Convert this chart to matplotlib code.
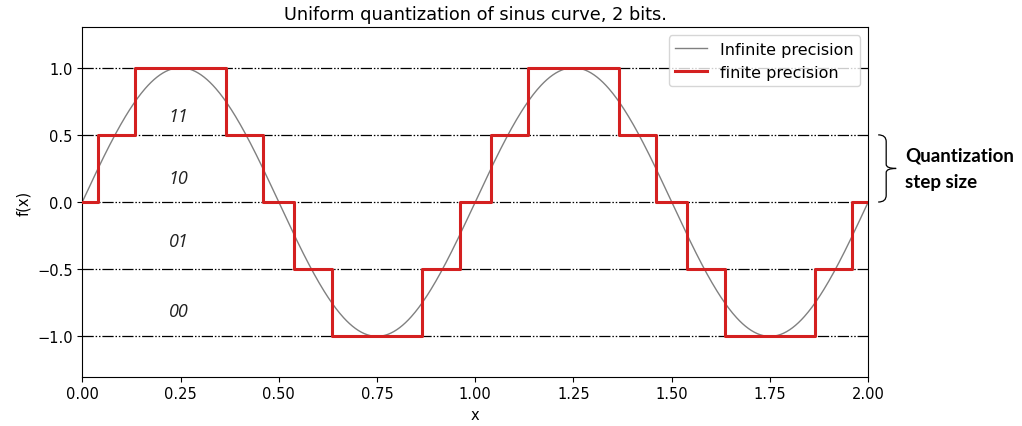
import numpy as np
import matplotlib
matplotlib.use('Agg')
import matplotlib.pyplot as plt
import matplotlib.transforms as mtransforms
from matplotlib.path import Path
from matplotlib.patches import PathPatch

# Quantization levels and the code word written in each band
levels = [-1.0, -0.5, 0.0, 0.5, 1.0]
codes = ['00', '01', '10', '11']
code_y = [-0.81, -0.29, 0.18, 0.64]

# Quantized signal: value held from each edge until the next
step_edges = [0.0, 0.040, 0.135, 0.365, 0.460, 0.540, 0.635, 0.865, 0.960,
              1.040, 1.135, 1.365, 1.460, 1.540, 1.635, 1.865, 1.960, 2.0]
step_values = [0.0, 0.5, 1.0, 0.5, 0.0, -0.5, -1.0, -0.5, 0.0,
               0.5, 1.0, 0.5, 0.0, -0.5, -1.0, -0.5, 0.0, 0.0]

# Continuous sine, two periods on [0, 2]
x = np.linspace(0, 2, 801)
y = np.sin(2 * np.pi * x)

plt.rcParams['xtick.labelsize'] = 10.5
plt.rcParams['ytick.labelsize'] = 10.5
plt.rcParams['axes.labelsize'] = 10.5

fig = plt.figure(figsize=(10.22, 4.27), dpi=100)
ax = fig.add_axes([0.0805, 0.1155, 0.769, 0.818])

for lv in levels:
    ax.axhline(lv, color='black', lw=0.9, dashes=(9, 1.5, 1.2, 1.5, 1.2, 1.5), zorder=1)

ax.plot(x, y, color='gray', lw=1.0, label='Infinite precision', zorder=2)
ax.step(step_edges, step_values, where='post', color='#d42020', lw=2.2,
        label='finite precision', zorder=3)

for c, cy in zip(codes, code_y):
    ax.text(0.245, cy, c, fontsize=13, style='italic', family='Open Sans',
            ha='center', va='center', color='#222222')

ax.set_xlim(0, 2)
ax.set_ylim(-1.3, 1.3)
ax.set_xticks(np.arange(0, 2.01, 0.25))
ax.set_yticks(levels)
ax.set_xlabel('x')
ax.set_ylabel('f(x)')
ax.set_title('Uniform quantization of sinus curve, 2 bits.', fontsize=12.8)
ax.legend(loc='upper right', fontsize=11.5)

# Curly brace marking one quantization step, outside the axes on the right
tr = mtransforms.blended_transform_factory(ax.transAxes, ax.transData)
px = 1 / 786  # one pixel as a fraction of the axes width


def brace_half(y_end, y_bend, y_mid):
    verts = [(1 + 10 * px, y_end), (1 + 18 * px, y_end), (1 + 18 * px, y_bend),
             (1 + 18 * px, y_mid + (y_bend - y_mid) * 0.15), (1 + 18 * px, y_mid),
             (1 + 28 * px, y_mid)]
    codes_ = [Path.MOVETO, Path.CURVE3, Path.CURVE3, Path.LINETO,
              Path.CURVE3, Path.CURVE3]
    return PathPatch(Path(verts, codes_), fill=False, lw=0.9, color='black',
                     transform=tr, clip_on=False)


ax.add_patch(brace_half(0.5, 0.45, 0.25))
ax.add_patch(brace_half(0.0, 0.05, 0.25))
ax.text(1 + 37 * px, 0.35, 'Quantization', transform=tr, fontsize=13.5,
        fontweight='bold', family='Lato', ha='left', va='center')
ax.text(1 + 37 * px, 0.15, 'step size', transform=tr, fontsize=13.5,
        fontweight='bold', family='Lato', ha='left', va='center')

fig.savefig('out.png', dpi=100)
